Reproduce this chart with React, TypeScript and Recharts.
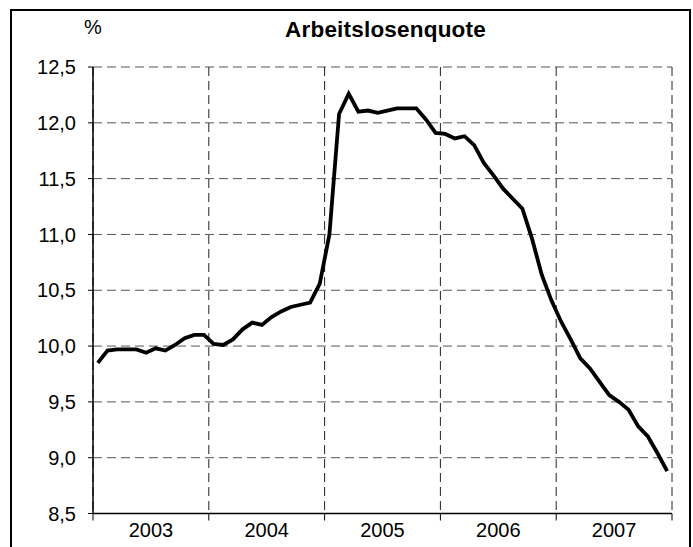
import { CartesianGrid, Line, LineChart, XAxis, YAxis } from 'recharts'

const years = ['2003', '2004', '2005', '2006', '2007']

// monthly unemployment rate, %, Jan..Dec
const rate2003 = [9.85, 9.96, 9.97, 9.97, 9.97, 9.94, 9.98, 9.96, 10.01, 10.07, 10.1, 10.1]
const rate2004 = [10.02, 10.01, 10.06, 10.15, 10.21, 10.19, 10.26, 10.31, 10.35, 10.37, 10.39, 10.56]
const rate2005 = [11.0, 12.08, 12.26, 12.1, 12.11, 12.09, 12.11, 12.13, 12.13, 12.13, 12.03, 11.91]
const rate2006 = [11.9, 11.86, 11.88, 11.8, 11.64, 11.53, 11.41, 11.32, 11.23, 10.96, 10.64, 10.41]
const rate2007 = [10.22, 10.06, 9.89, 9.8, 9.68, 9.56, 9.5, 9.43, 9.28, 9.19, 9.04, 8.88]

const yTicks = [8.5, 9, 9.5, 10, 10.5, 11, 11.5, 12, 12.5]

const data = [rate2003, rate2004, rate2005, rate2006, rate2007].flatMap((vals, yi) =>
  vals.map((v, m) => ({ month: yi * 12 + m, rate: v }))
)
const yearBounds = years.map((_, i) => i * 12 - 0.5).concat(years.length * 12 - 0.5)

const W = 693
const H = 547
const margin = { top: 67, right: 21, bottom: 3.5, left: 33 }
const Y_AXIS_W = 60
const PLOT_W = W - margin.left - margin.right - Y_AXIS_W
const HALF_YEAR = (PLOT_W / 60) * 6
const font = '"Liberation Sans", Arial, sans-serif'

const YearTick = (props: any) => {
  const { x, y, payload } = props
  const yi = Math.round((payload.value + 0.5) / 12)
  if (yi >= years.length) return <g />
  return (
    <text x={x + HALF_YEAR} y={y} dy="0.71em" textAnchor="middle" fontSize={20} fill="#000" fontFamily={font}>
      {years[yi]}
    </text>
  )
}

export default function App() {
  return (
    <div style={{ position: 'fixed', left: 0, top: 0, width: W, height: H, overflow: 'hidden', background: '#fff', fontFamily: font }}>
      <div style={{ position: 'absolute', left: 10, top: 9, width: 681, height: 600, border: '2px solid #000', boxSizing: 'border-box' }} />
      <div style={{ position: 'absolute', left: 93, top: 17, transform: 'translateX(-50%)', fontSize: 20, lineHeight: 1 }}>%</div>
      <div style={{ position: 'absolute', left: 385.5, top: 19, transform: 'translateX(-50%)', fontSize: 22.5, fontWeight: 'bold', letterSpacing: 0.2, lineHeight: 1, whiteSpace: 'nowrap' }}>
        Arbeitslosenquote
      </div>
      <div style={{ position: 'absolute', left: 0, top: 0 }}>
        <LineChart width={W} height={H} data={data} margin={margin}>
          <CartesianGrid vertical={false} strokeDasharray="9 5" stroke="#555" />
          <CartesianGrid horizontal={false} strokeDasharray="9 5" stroke="#222" />
          <XAxis
            dataKey="month"
            type="number"
            domain={[-0.5, 59.5]}
            ticks={yearBounds}
            interval={0}
            height={30}
            tickSize={7}
            tickMargin={2}
            tick={YearTick}
            axisLine={{ stroke: '#000', strokeWidth: 1.5 }}
            tickLine={{ stroke: '#000' }}
          />
          <YAxis
            domain={[8.5, 12.5]}
            ticks={yTicks}
            interval={0}
            width={Y_AXIS_W}
            tickSize={5}
            tickMargin={12}
            tickFormatter={(v: number) => v.toFixed(1).replace('.', ',')}
            tick={{ fontSize: 20, fill: '#000', fontFamily: font }}
            axisLine={{ stroke: '#000', strokeWidth: 1.5 }}
            tickLine={{ stroke: '#000' }}
          />
          <Line type="linear" dataKey="rate" stroke="#000" strokeWidth={3.8} dot={false} isAnimationActive={false} />
        </LineChart>
      </div>
    </div>
  )
}
